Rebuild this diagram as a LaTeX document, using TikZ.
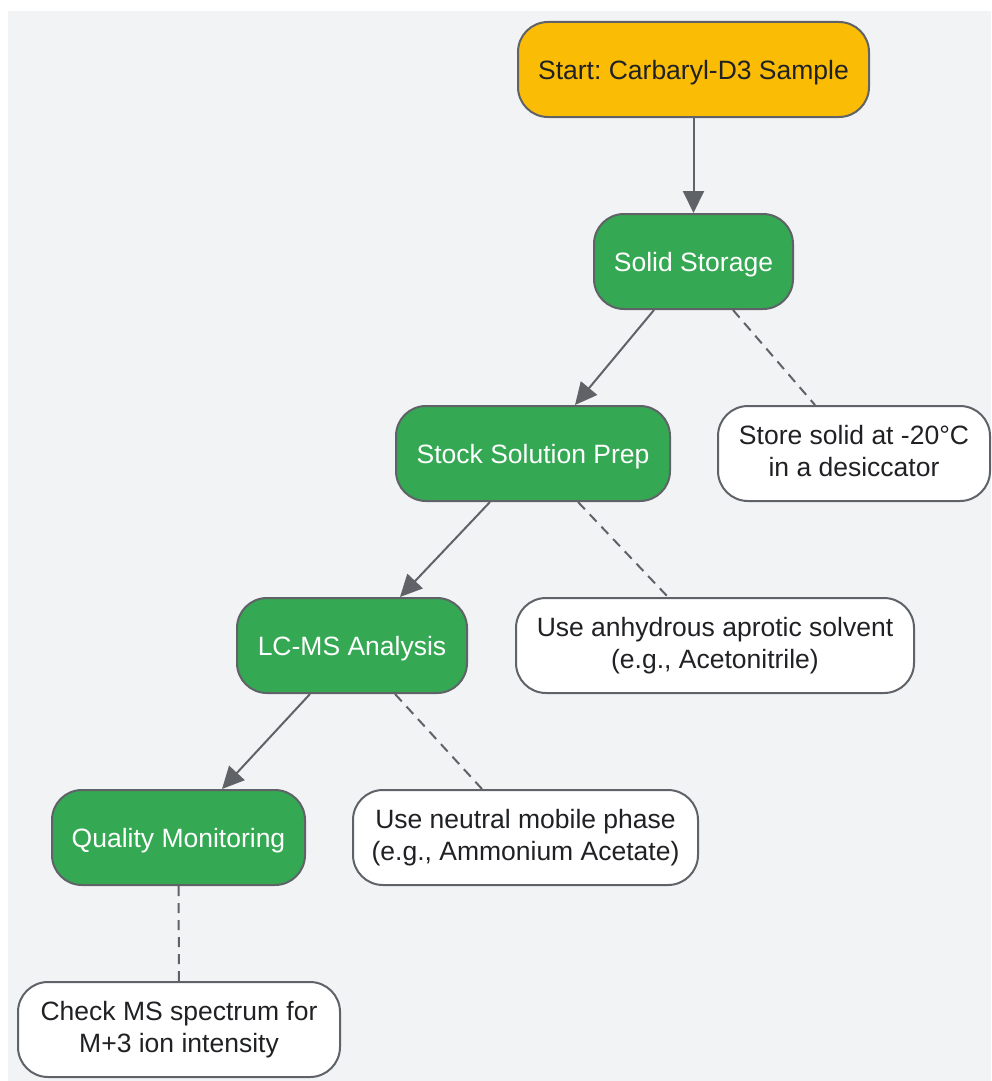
\documentclass[tikz,border=0pt]{standalone}
\usepackage{fontspec}
\setmainfont{Liberation Sans}
\usetikzlibrary{arrows.meta,positioning,calc}
\definecolor{edge}{HTML}{5F6368}
\definecolor{ink}{HTML}{202124}
\definecolor{start}{HTML}{FBBC05}
\definecolor{stage}{HTML}{34A853}
\definecolor{canvas}{HTML}{F1F3F5}
\frenchspacing
\begin{document}
\begin{tikzpicture}[x=1pt,y=-1pt,>={Triangle[length=22pt,width=21pt]},
  font=\fontsize{26.5}{32}\selectfont,
  base/.style={draw=edge,line width=2pt,rounded corners=30pt,align=center,minimum height=95pt,inner sep=0pt,
    execute at begin node={\rule{0pt}{25pt}},execute at end node={\rule[-6pt]{0pt}{6pt}}},
  startbox/.style={base,fill=start,text=ink},
  stagebox/.style={base,fill=stage,text=white},
  notebox/.style={base,fill=white,text=ink,execute at begin node={\rule{0pt}{30pt}}},
  flow/.style={->,draw=edge,line width=2pt},
  hint/.style={draw=edge,line width=2pt,dash pattern=on 10pt off 7pt}]
\useasboundingbox (0,0) rectangle (991,1081);
\fill[canvas] (8,11) rectangle (991,1081);
\node[startbox,minimum width=351pt] (start) at (693.5,69.5) {Start: Carbaryl-D3 Sample};
\node[stagebox,minimum width=199pt] (solid) at (693.5,261.5) {Solid Storage};
\node[stagebox,minimum width=274pt] (stock) at (533,453.5) {Stock Solution Prep};
\node[notebox,minimum width=272pt] (cold) at (854,453.5) {Store solid at -20°C\\in a desiccator};
\node[stagebox,minimum width=230pt] (lcms) at (352,645.5) {LC-MS Analysis};
\node[notebox,minimum width=398pt] (solvent) at (715,645.5) {Use anhydrous aprotic solvent\\(e.g., Acetonitrile)};
\node[stagebox,minimum width=253pt] (qc) at (178.5,837.5) {Quality Monitoring};
\node[notebox,minimum width=345pt] (phase) at (525.5,837.5) {Use neutral mobile phase\\(e.g., Ammonium Acetate)};
\node[notebox,minimum width=322pt] (check) at (179,1029.5) {Check MS spectrum for\\M+3 ion intensity};
% main path
\draw[flow] (start) -- (solid);
\draw[flow] ([xshift=-39.5pt]solid.south) -- ([xshift=42pt]stock.north);
\draw[flow] ([xshift=-43pt]stock.south) -- ([xshift=48pt]lcms.north);
\draw[flow] ([xshift=-42pt]lcms.south) -- ([xshift=43.5pt]qc.north);
% notes
\draw[hint] ([xshift=39.5pt]solid.south) -- ([xshift=-39pt]cold.north);
\draw[hint] ([xshift=45pt]stock.south) -- ([xshift=-47pt]solvent.north);
\draw[hint] ([xshift=43pt]lcms.south) -- ([xshift=-43.5pt]phase.north);
\draw[hint] (qc) -- (check);
\end{tikzpicture}
\end{document}
